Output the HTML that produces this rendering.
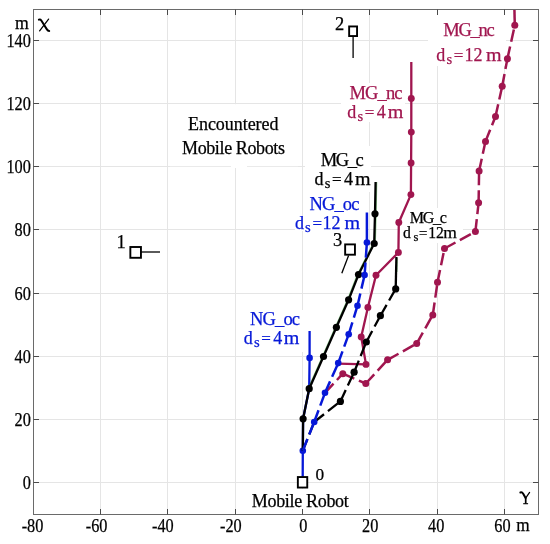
<!DOCTYPE html><html><head><meta charset="utf-8"><style>html,body{margin:0;padding:0;background:#fff;}svg{display:block;will-change:transform;}text{font-family:"Liberation Serif",serif;}</style></head><body>
<svg width="550" height="544" viewBox="0 0 550 544">
<rect width="550" height="544" fill="#fff"/>
<g stroke="#e5e5e5" stroke-width="1">
<line x1="100.5" y1="9.5" x2="100.5" y2="514.5"/>
<line x1="167.5" y1="9.5" x2="167.5" y2="514.5"/>
<line x1="235.5" y1="9.5" x2="235.5" y2="514.5"/>
<line x1="302.5" y1="9.5" x2="302.5" y2="514.5"/>
<line x1="369.5" y1="9.5" x2="369.5" y2="514.5"/>
<line x1="437.5" y1="9.5" x2="437.5" y2="514.5"/>
<line x1="504.5" y1="9.5" x2="504.5" y2="514.5"/>
<line x1="33.5" y1="482.5" x2="538.5" y2="482.5"/>
<line x1="33.5" y1="419.5" x2="538.5" y2="419.5"/>
<line x1="33.5" y1="356.5" x2="538.5" y2="356.5"/>
<line x1="33.5" y1="293.5" x2="538.5" y2="293.5"/>
<line x1="33.5" y1="229.5" x2="538.5" y2="229.5"/>
<line x1="33.5" y1="166.5" x2="538.5" y2="166.5"/>
<line x1="33.5" y1="103.5" x2="538.5" y2="103.5"/>
<line x1="33.5" y1="40.5" x2="538.5" y2="40.5"/>
</g>
<g fill="#fff">
<rect x="170" y="104.2" width="128" height="62"/>
<rect x="231" y="165" width="16" height="3"/>
<rect x="428" y="14" width="78" height="52"/>
<rect x="341" y="83" width="64" height="39"/>
<rect x="305" y="146" width="66" height="46"/>
<rect x="295" y="228" width="71" height="3"/>
<rect x="400" y="208" width="63" height="35"/>
<rect x="240" y="310" width="65" height="42"/>
<rect x="247" y="489" width="107" height="20"/>
</g>
<polyline points="338.2,363.6 366.0,364.4 361.2,336.9 367.9,307.4 376.0,275.2 398.4,252.5 398.8,222.5 410.9,194.6 411.1,163.0 411.3,132.1 411.3,98.4 411.3,62.0" fill="none" stroke="#a0164f" stroke-width="2.3" stroke-linejoin="round"/>
<circle cx="366.0" cy="364.4" r="3.45" fill="#a0164f"/>
<circle cx="361.2" cy="336.9" r="3.45" fill="#a0164f"/>
<circle cx="367.9" cy="307.4" r="3.45" fill="#a0164f"/>
<circle cx="376.0" cy="275.2" r="3.45" fill="#a0164f"/>
<circle cx="398.4" cy="252.5" r="3.45" fill="#a0164f"/>
<circle cx="398.8" cy="222.5" r="3.45" fill="#a0164f"/>
<circle cx="410.9" cy="194.6" r="3.45" fill="#a0164f"/>
<circle cx="411.1" cy="163.0" r="3.45" fill="#a0164f"/>
<circle cx="411.3" cy="132.1" r="3.45" fill="#a0164f"/>
<circle cx="411.3" cy="98.4" r="3.45" fill="#a0164f"/>
<line x1="325.0" y1="392.8" x2="342.8" y2="373.7" stroke="#a0164f" stroke-width="2.5" stroke-dasharray="12.5 5"/>
<line x1="342.8" y1="373.7" x2="365.8" y2="383.5" stroke="#a0164f" stroke-width="2.5" stroke-dasharray="12.5 5"/>
<line x1="365.8" y1="383.5" x2="387.6" y2="359.8" stroke="#a0164f" stroke-width="2.5" stroke-dasharray="12.5 5"/>
<line x1="387.6" y1="359.8" x2="416.7" y2="343.6" stroke="#a0164f" stroke-width="2.5" stroke-dasharray="12.5 5"/>
<line x1="416.7" y1="343.6" x2="432.8" y2="314.9" stroke="#a0164f" stroke-width="2.5" stroke-dasharray="12.5 5"/>
<line x1="432.8" y1="314.9" x2="437.5" y2="282.3" stroke="#a0164f" stroke-width="2.5" stroke-dasharray="12.5 5"/>
<line x1="437.5" y1="282.3" x2="444.5" y2="248.5" stroke="#a0164f" stroke-width="2.5" stroke-dasharray="12.5 5"/>
<line x1="444.5" y1="248.5" x2="475.4" y2="231.6" stroke="#a0164f" stroke-width="2.5" stroke-dasharray="12.5 5"/>
<line x1="475.4" y1="231.6" x2="478.6" y2="202.8" stroke="#a0164f" stroke-width="2.5" stroke-dasharray="12.5 5"/>
<line x1="478.6" y1="202.8" x2="479.1" y2="170.9" stroke="#a0164f" stroke-width="2.5" stroke-dasharray="12.5 5"/>
<line x1="479.1" y1="170.9" x2="485.5" y2="141.4" stroke="#a0164f" stroke-width="2.5" stroke-dasharray="12.5 5"/>
<line x1="485.5" y1="141.4" x2="495.5" y2="116.5" stroke="#a0164f" stroke-width="2.5" stroke-dasharray="12.5 5"/>
<line x1="495.5" y1="116.5" x2="502.2" y2="86.3" stroke="#a0164f" stroke-width="2.5" stroke-dasharray="12.5 5"/>
<line x1="502.2" y1="86.3" x2="507.4" y2="58.8" stroke="#a0164f" stroke-width="2.5" stroke-dasharray="12.5 5"/>
<line x1="507.4" y1="58.8" x2="514.8" y2="25.3" stroke="#a0164f" stroke-width="2.5" stroke-dasharray="12.5 5"/>
<line x1="514.8" y1="25.3" x2="514.4" y2="9.0" stroke="#a0164f" stroke-width="2.5"/>
<circle cx="342.8" cy="373.7" r="3.5" fill="#a0164f"/>
<circle cx="365.8" cy="383.5" r="3.5" fill="#a0164f"/>
<circle cx="387.6" cy="359.8" r="3.5" fill="#a0164f"/>
<circle cx="416.7" cy="343.6" r="3.5" fill="#a0164f"/>
<circle cx="432.8" cy="314.9" r="3.5" fill="#a0164f"/>
<circle cx="437.5" cy="282.3" r="3.5" fill="#a0164f"/>
<circle cx="444.5" cy="248.5" r="3.5" fill="#a0164f"/>
<circle cx="475.4" cy="231.6" r="3.5" fill="#a0164f"/>
<circle cx="478.6" cy="202.8" r="3.5" fill="#a0164f"/>
<circle cx="479.1" cy="170.9" r="3.5" fill="#a0164f"/>
<circle cx="485.5" cy="141.4" r="3.5" fill="#a0164f"/>
<circle cx="495.5" cy="116.5" r="3.5" fill="#a0164f"/>
<circle cx="502.2" cy="86.3" r="3.5" fill="#a0164f"/>
<circle cx="507.4" cy="58.8" r="3.5" fill="#a0164f"/>
<circle cx="514.8" cy="25.3" r="3.5" fill="#a0164f"/>
<polyline points="302.7,478.0 302.8,450.7 303.1,418.8 309.2,388.7 309.6,357.9 309.6,331.0" fill="none" stroke="#0618d8" stroke-width="2.3" stroke-linejoin="round"/>
<circle cx="302.8" cy="450.7" r="3.3" fill="#0618d8"/>
<circle cx="309.6" cy="357.9" r="3.3" fill="#0618d8"/>
<polyline points="308.1,388.7 322.4,356.5 335.3,327.3 347.5,299.8 357.4,274.6 373.1,243.5" fill="none" stroke="#2a9a2a" stroke-width="1.2" stroke-opacity="0.55"/>
<polyline points="375.3,243.5 376.1,213.8 376.7,182.0" fill="none" stroke="#2a9a2a" stroke-width="1.2" stroke-opacity="0.55"/>
<line x1="397.4" y1="258" x2="397.0" y2="272" stroke="#2a9a2a" stroke-width="1.0" stroke-opacity="0.5"/>
<polyline points="302.8,450.7 303.1,418.8 309.2,388.7 323.5,356.5 336.4,327.3 348.6,299.8 358.5,274.6 374.2,243.5 375.0,213.8 375.6,182.0" fill="none" stroke="#000" stroke-width="2.3" stroke-linejoin="round"/>
<circle cx="303.1" cy="418.8" r="3.6" fill="#000"/>
<circle cx="309.2" cy="388.7" r="3.6" fill="#000"/>
<circle cx="323.5" cy="356.5" r="3.6" fill="#000"/>
<circle cx="336.4" cy="327.3" r="3.6" fill="#000"/>
<circle cx="348.6" cy="299.8" r="3.6" fill="#000"/>
<circle cx="358.5" cy="274.6" r="3.6" fill="#000"/>
<circle cx="374.2" cy="243.5" r="3.6" fill="#000"/>
<circle cx="375.0" cy="213.8" r="3.6" fill="#000"/>
<line x1="302.8" y1="450.7" x2="314.2" y2="422" stroke="#000" stroke-width="2.3" stroke-dasharray="12.5 5"/>
<line x1="314.2" y1="422" x2="340.4" y2="401.4" stroke="#000" stroke-width="2.3" stroke-dasharray="12.5 5"/>
<line x1="340.4" y1="401.4" x2="354.1" y2="372.2" stroke="#000" stroke-width="2.3" stroke-dasharray="12.5 5"/>
<line x1="354.1" y1="372.2" x2="366.3" y2="342" stroke="#000" stroke-width="2.3" stroke-dasharray="12.5 5"/>
<line x1="366.3" y1="342" x2="380.4" y2="315.7" stroke="#000" stroke-width="2.3" stroke-dasharray="12.5 5"/>
<line x1="380.4" y1="315.7" x2="395.7" y2="288.9" stroke="#000" stroke-width="2.3" stroke-dasharray="12.5 5"/>
<line x1="395.7" y1="288.9" x2="396.4" y2="257" stroke="#000" stroke-width="2.3"/>
<circle cx="340.4" cy="401.4" r="3.6" fill="#000"/>
<circle cx="354.1" cy="372.2" r="3.6" fill="#000"/>
<circle cx="366.3" cy="342.0" r="3.6" fill="#000"/>
<circle cx="380.4" cy="315.7" r="3.6" fill="#000"/>
<circle cx="395.7" cy="288.9" r="3.6" fill="#000"/>
<line x1="302.8" y1="450.7" x2="314.2" y2="422" stroke="#0618d8" stroke-width="2.5" stroke-dasharray="12.5 5"/>
<line x1="314.2" y1="422" x2="325.0" y2="392.8" stroke="#0618d8" stroke-width="2.5" stroke-dasharray="12.5 5"/>
<line x1="325.0" y1="392.8" x2="338.2" y2="363.1" stroke="#0618d8" stroke-width="2.5" stroke-dasharray="12.5 5"/>
<line x1="338.2" y1="363.1" x2="348.7" y2="334.3" stroke="#0618d8" stroke-width="2.5" stroke-dasharray="12.5 5"/>
<line x1="348.7" y1="334.3" x2="357.5" y2="305.7" stroke="#0618d8" stroke-width="2.5" stroke-dasharray="12.5 5"/>
<line x1="357.5" y1="305.7" x2="364.6" y2="275.0" stroke="#0618d8" stroke-width="2.5" stroke-dasharray="12.5 5"/>
<line x1="364.6" y1="275.0" x2="366.9" y2="242.6" stroke="#0618d8" stroke-width="2.5" stroke-dasharray="12.5 5"/>
<line x1="366.9" y1="242.6" x2="366.9" y2="212.5" stroke="#0618d8" stroke-width="2.5"/>
<circle cx="314.2" cy="422.0" r="3.3" fill="#0618d8"/>
<circle cx="325.0" cy="392.8" r="3.3" fill="#0618d8"/>
<circle cx="338.2" cy="363.1" r="3.3" fill="#0618d8"/>
<circle cx="348.7" cy="334.3" r="3.3" fill="#0618d8"/>
<circle cx="357.5" cy="305.7" r="3.3" fill="#0618d8"/>
<circle cx="364.6" cy="275.0" r="3.3" fill="#0618d8"/>
<circle cx="366.9" cy="242.6" r="3.3" fill="#0618d8"/>
<g fill="#fff" stroke="#000" stroke-width="1.9">
<rect x="297.85" y="477.05" width="9.4" height="10.5"/>
<rect x="130.35" y="247.00" width="10.6" height="10.8"/>
<rect x="349.15" y="26.45" width="7.9" height="9.6"/>
<rect x="345.15" y="244.40" width="9.8" height="10.3"/>
</g>
<g stroke="#000" stroke-width="1.3">
<line x1="141" y1="252.0" x2="160" y2="252.0"/>
<line x1="353.1" y1="36.2" x2="353.1" y2="58"/>
<line x1="348.6" y1="255.5" x2="341.8" y2="273.2"/>
</g>
<rect x="33.5" y="9.5" width="505.0" height="505.0" fill="none" stroke="#6a6a6a" stroke-width="1"/>
<g stroke="#4a4a4a" stroke-width="1">
<line x1="100.5" y1="514.5" x2="100.5" y2="509.0"/>
<line x1="100.5" y1="9.5" x2="100.5" y2="15.0"/>
<line x1="167.5" y1="514.5" x2="167.5" y2="509.0"/>
<line x1="167.5" y1="9.5" x2="167.5" y2="15.0"/>
<line x1="235.5" y1="514.5" x2="235.5" y2="509.0"/>
<line x1="235.5" y1="9.5" x2="235.5" y2="15.0"/>
<line x1="302.5" y1="514.5" x2="302.5" y2="509.0"/>
<line x1="302.5" y1="9.5" x2="302.5" y2="15.0"/>
<line x1="369.5" y1="514.5" x2="369.5" y2="509.0"/>
<line x1="369.5" y1="9.5" x2="369.5" y2="15.0"/>
<line x1="437.5" y1="514.5" x2="437.5" y2="509.0"/>
<line x1="437.5" y1="9.5" x2="437.5" y2="15.0"/>
<line x1="504.5" y1="514.5" x2="504.5" y2="509.0"/>
<line x1="504.5" y1="9.5" x2="504.5" y2="15.0"/>
<line x1="33.5" y1="482.5" x2="39.0" y2="482.5"/>
<line x1="538.5" y1="482.5" x2="533.0" y2="482.5"/>
<line x1="33.5" y1="419.5" x2="39.0" y2="419.5"/>
<line x1="538.5" y1="419.5" x2="533.0" y2="419.5"/>
<line x1="33.5" y1="356.5" x2="39.0" y2="356.5"/>
<line x1="538.5" y1="356.5" x2="533.0" y2="356.5"/>
<line x1="33.5" y1="293.5" x2="39.0" y2="293.5"/>
<line x1="538.5" y1="293.5" x2="533.0" y2="293.5"/>
<line x1="33.5" y1="229.5" x2="39.0" y2="229.5"/>
<line x1="538.5" y1="229.5" x2="533.0" y2="229.5"/>
<line x1="33.5" y1="166.5" x2="39.0" y2="166.5"/>
<line x1="538.5" y1="166.5" x2="533.0" y2="166.5"/>
<line x1="33.5" y1="103.5" x2="39.0" y2="103.5"/>
<line x1="538.5" y1="103.5" x2="533.0" y2="103.5"/>
<line x1="33.5" y1="40.5" x2="39.0" y2="40.5"/>
<line x1="538.5" y1="40.5" x2="533.0" y2="40.5"/>
</g>
<g font-size="17" fill="#000" stroke="#000" stroke-width="0.25">
<text x="30.9" y="488.6" text-anchor="end" font-size="18.5" textLength="8.14" lengthAdjust="spacingAndGlyphs">0</text>
<text x="30.9" y="425.6" text-anchor="end" font-size="18.5" textLength="16.28" lengthAdjust="spacingAndGlyphs">20</text>
<text x="30.9" y="362.6" text-anchor="end" font-size="18.5" textLength="16.28" lengthAdjust="spacingAndGlyphs">40</text>
<text x="30.9" y="299.6" text-anchor="end" font-size="18.5" textLength="16.28" lengthAdjust="spacingAndGlyphs">60</text>
<text x="30.9" y="235.6" text-anchor="end" font-size="18.5" textLength="16.28" lengthAdjust="spacingAndGlyphs">80</text>
<text x="30.9" y="172.6" text-anchor="end" font-size="18.5" textLength="24.41" lengthAdjust="spacingAndGlyphs">100</text>
<text x="30.9" y="109.6" text-anchor="end" font-size="18.5" textLength="24.41" lengthAdjust="spacingAndGlyphs">120</text>
<text x="30.9" y="46.6" text-anchor="end" font-size="18.5" textLength="24.41" lengthAdjust="spacingAndGlyphs">140</text>
<text x="32.5" y="532" text-anchor="middle" font-size="18.5" textLength="21.70" lengthAdjust="spacingAndGlyphs">-80</text>
<text x="96.65" y="532" text-anchor="middle" font-size="18.5" textLength="21.70" lengthAdjust="spacingAndGlyphs">-60</text>
<text x="162.9" y="532" text-anchor="middle" font-size="18.5" textLength="21.70" lengthAdjust="spacingAndGlyphs">-40</text>
<text x="230.9" y="532" text-anchor="middle" font-size="18.5" textLength="21.70" lengthAdjust="spacingAndGlyphs">-20</text>
<text x="303.4" y="532" text-anchor="middle" font-size="18.5" textLength="8.14" lengthAdjust="spacingAndGlyphs">0</text>
<text x="370.2" y="532" text-anchor="middle" font-size="18.5" textLength="16.28" lengthAdjust="spacingAndGlyphs">20</text>
<text x="436.2" y="532" text-anchor="middle" font-size="18.5" textLength="16.28" lengthAdjust="spacingAndGlyphs">40</text>
<text x="502.5" y="532" text-anchor="middle" font-size="18.5" textLength="16.28" lengthAdjust="spacingAndGlyphs">60</text>
<text x="516.2" y="531" font-size="18.5" textLength="13.4" lengthAdjust="spacingAndGlyphs">m</text>
<text x="15.1" y="28.8" font-size="18.5" textLength="13.8" lengthAdjust="spacingAndGlyphs">m</text>
<g fill="none" stroke="#000" stroke-linecap="round">
<path d="M38.9,19.7 C39.8,19.3 40.6,19.5 41.3,20.5 L46.9,29.4 C47.5,30.4 48.2,30.9 49.2,30.9" stroke-width="2.0"/>
<path d="M48.6,19.1 L39.6,30.8" stroke-width="1.25"/>
</g>
<g fill="none" stroke="#000">
<path d="M520.4,492.5 C521.3,492.1 522.4,492.4 523.2,493.7 L525.6,497.9" stroke-width="2.0" stroke-linecap="round"/>
<path d="M529.6,492.4 L525.8,497.9" stroke-width="1.25" stroke-linecap="round"/>
<path d="M525.7,497.5 L525.7,503.6" stroke-width="1.7"/>
<path d="M523.2,503.7 L528.1,503.7" stroke-width="1.1"/>
</g>
<text x="188" y="130.3" font-size="18" textLength="90.5" lengthAdjust="spacing" stroke="#000" stroke-width="0.25">Encountered</text>
<text x="182" y="154.3" font-size="18" textLength="103" lengthAdjust="spacing" stroke="#000" stroke-width="0.25">Mobile Robots</text>
<text x="251.8" y="506.9" font-size="18" textLength="97" lengthAdjust="spacing" stroke="#000" stroke-width="0.25">Mobile Robot</text>
<text x="315.6" y="479.5" font-size="17.3">0</text>
<text x="116.6" y="248.3" font-size="18.5">1</text>
<text x="335.0" y="29.8" font-size="18.5">2</text>
<text x="332.9" y="245.8" font-size="18.5">3</text>
</g>
<g fill="#a0164f" stroke="#a0164f" stroke-width="0.25">
<text x="443.2" y="36.3" font-size="18.5" textLength="51.5" lengthAdjust="spacing">MG_nc</text>
<text x="436.2" y="61.0" font-size="18.0">d</text>
<text x="446.4" y="64.0" font-size="14.5">s</text>
<text x="453.8" y="61.0" font-size="17.0">=</text>
<text x="464.4" y="61.0" font-size="18.0">12</text>
<text x="485.9" y="61.0" font-size="18.0" textLength="15.6" lengthAdjust="spacingAndGlyphs">m</text>
</g>
<g fill="#a0164f" stroke="#a0164f" stroke-width="0.25">
<text x="349.5" y="99.3" font-size="18.5" textLength="53.0" lengthAdjust="spacing">MG_nc</text>
<text x="347.2" y="118.0" font-size="18.0">d</text>
<text x="357.4" y="121.0" font-size="14.5">s</text>
<text x="364.8" y="118.0" font-size="17.0">=</text>
<text x="376.8" y="118.0" font-size="18.0">4</text>
<text x="387.7" y="118.0" font-size="18.0" textLength="15.6" lengthAdjust="spacingAndGlyphs">m</text>
</g>
<g fill="#000" stroke="#000" stroke-width="0.25">
<text x="320.8" y="165.7" font-size="18.5" textLength="43.0" lengthAdjust="spacing">MG_c</text>
<text x="314.5" y="184.8" font-size="18.0">d</text>
<text x="324.7" y="187.8" font-size="14.5">s</text>
<text x="332.1" y="184.8" font-size="17.0">=</text>
<text x="344.1" y="184.8" font-size="18.0">4</text>
<text x="355.0" y="184.8" font-size="18.0" textLength="15.6" lengthAdjust="spacingAndGlyphs">m</text>
</g>
<g fill="#0618d8" stroke="#0618d8" stroke-width="0.25">
<text x="309.4" y="210.1" font-size="18.5" textLength="50.0" lengthAdjust="spacing">NG_oc</text>
<text x="294.9" y="229.2" font-size="18.0">d</text>
<text x="305.1" y="232.2" font-size="14.5">s</text>
<text x="312.5" y="229.2" font-size="17.0">=</text>
<text x="322.4" y="229.2" font-size="18.0">12</text>
<text x="344.6" y="229.2" font-size="18.0" textLength="15.6" lengthAdjust="spacingAndGlyphs">m</text>
</g>
<g fill="#000" stroke="#000" stroke-width="0.25">
<text x="409.8" y="223.3" font-size="16.1" textLength="37.0" lengthAdjust="spacing">MG_c</text>
<text x="402.9" y="238.4" font-size="15.7">d</text>
<text x="413.5" y="241.0" font-size="12.6">s</text>
<text x="418.9" y="238.4" font-size="14.8">=</text>
<text x="428.2" y="238.4" font-size="15.7">12</text>
<text x="443.3" y="238.4" font-size="15.7" textLength="13.6" lengthAdjust="spacingAndGlyphs">m</text>
</g>
<g fill="#0618d8" stroke="#0618d8" stroke-width="0.25">
<text x="250.0" y="324.5" font-size="18.5" textLength="50.0" lengthAdjust="spacing">NG_oc</text>
<text x="243.7" y="344.0" font-size="18.0">d</text>
<text x="253.9" y="347.0" font-size="14.5">s</text>
<text x="261.3" y="344.0" font-size="17.0">=</text>
<text x="273.3" y="344.0" font-size="18.0">4</text>
<text x="283.7" y="344.0" font-size="18.0" textLength="15.6" lengthAdjust="spacingAndGlyphs">m</text>
</g>
</svg></body></html>
